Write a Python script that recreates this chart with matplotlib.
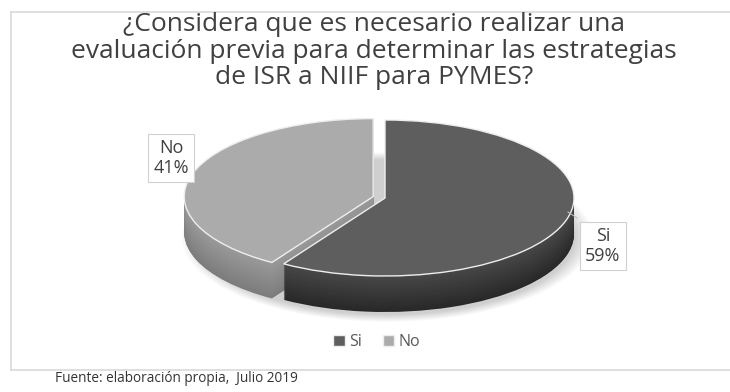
import numpy as np
import matplotlib
matplotlib.use("Agg")
import matplotlib.pyplot as plt

# survey answers
answers = ["Si", "No"]
shares = [59, 41]

title = ("¿Considera que es necesario realizar una\n"
         "evaluación previa para determinar las estrategias\n"
         "de ISR a NIIF para PYMES?")
source = "Fuente: elaboración propia,  Julio 2019"

top_colors = ["#5e5e5e", "#ababab"]
side_top = ["#484848", "#9a9a9a"]
side_bottom = ["#282828", "#7c7c7c"]
explode = [0, 0.065]

W, H = 730, 392
plt.rcParams['font.family'] = ['Open Sans', 'DejaVu Sans']
fig = plt.figure(figsize=(W / 100, H / 100), dpi=100)


def fx(x):
    return x / W


def fy(y):
    return 1 - y / H


# chart frame (open on the right, runs past the edge)
for xs, ys in [((11, 11), (12, 370)), ((11, 730), (12, 12)), ((11, 730), (370, 370))]:
    fig.add_artist(plt.Line2D([fx(v) for v in xs], [fy(v) for v in ys],
                              color="#d9d9d9", linewidth=1.2))

# pie geometry (pixels): centre, radii and thickness
cx, cy, rx, ry, depth = 385, 198, 189, 78, 36
ax = fig.add_axes([fx(cx - 1.3 * rx), fy(cy + 1.9 * ry),
                   2.6 * rx / W, 3.2 * ry / H])
d = depth / ry

# soft shadow under the pie
for k in range(8):
    ax.pie([1], radius=1.0 + 0.012 * k, center=(0.01, -d - 0.04),
           colors=["#000000"], wedgeprops=dict(alpha=0.025, linewidth=0))

# side walls, stacked from the bottom up
n = 40
for i in range(n + 1):
    t = i / n
    cols = []
    for a, b in zip(side_bottom, side_top):
        ca = np.array(matplotlib.colors.to_rgb(a))
        cb = np.array(matplotlib.colors.to_rgb(b))
        cols.append(ca * (1 - t) + cb * t)
    ax.pie(shares, startangle=90, counterclock=False, colors=cols,
           explode=explode, center=(0, -d * (1 - t)), radius=1,
           wedgeprops=dict(linewidth=0))

# top faces
wedges, _ = ax.pie(shares, startangle=90, counterclock=False,
                   colors=top_colors, explode=explode, radius=1,
                   wedgeprops=dict(edgecolor="#eeeeee", linewidth=1.0))

ax.set_aspect("auto")
ax.set_xlim(-1.3, 1.3)
ax.set_ylim(-1.9, 1.3)
ax.axis("off")

# title
fig.text(fx(374), fy(51), title, ha="center", va="center", fontsize=19,
         color="#404040", linespacing=1.1)

# data labels
label_pos = {"No": (171, 158), "Si": (603, 246)}
for name, val in zip(answers, shares):
    x, y = label_pos[name]
    fig.text(fx(x), fy(y), f"{name}\n{val}%", ha="center", va="center",
             fontsize=13, color="#404040", linespacing=1.1,
             bbox=dict(boxstyle="square,pad=0.3", facecolor="white",
                       edgecolor="#d0d0d0", linewidth=0.8))

# leader line for the Si label
fig.add_artist(plt.Line2D([fx(577), fx(568)], [fy(218), fy(212)],
                          color="#bfbfbf", linewidth=0.8))

fig.legend(wedges, answers, loc="center", bbox_to_anchor=(fx(377), fy(342)),
           ncol=2, frameon=False, fontsize=11.5, handlelength=0.7,
           handleheight=0.7, handletextpad=0.3, columnspacing=1.3,
           labelcolor="#595959")

fig.text(fx(55), fy(379), source, ha="left", va="center", fontsize=9.8,
         color="#333333")

fig.savefig("out.png", dpi=100, facecolor="white")
